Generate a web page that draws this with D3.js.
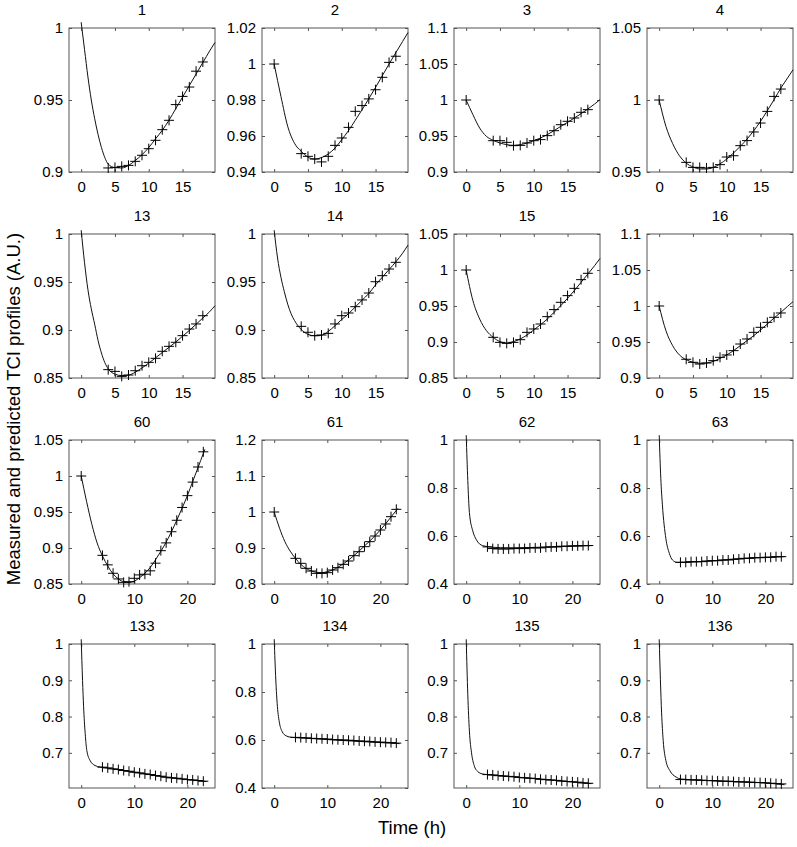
<!DOCTYPE html>
<html>
<head>
<meta charset="utf-8">
<script src="https://cdn.jsdelivr.net/npm/d3@7"></script>
<style>
  body { margin: 0; background: #fff; }
  svg { font-family: "Liberation Sans", Arial, Helvetica, sans-serif; }
  .axis text { font-size: 15px; fill: #000; }
  .axis line { stroke: #555; }
  .axis path { display: none; }
</style>
</head>
<body>
<svg width="797" height="847"></svg>
<script>
// panel titles, row by row
var titles = ["1", "2", "3", "4", "13", "14", "15", "16", "60", "61", "62", "63", "133", "134", "135", "136"];

var yDomains = [
  [0.9, 1], [0.94, 1.02], [0.9, 1.1], [0.95, 1.05],
  [0.85, 1], [0.85, 1], [0.85, 1.05], [0.9, 1.1],
  [0.85, 1.05], [0.8, 1.2], [0.4, 1], [0.4, 1],
  [0.603, 1], [0.4, 1], [0.603, 1], [0.603, 1]
];

var yTicks = [
  [0.9, 0.95, 1], [0.94, 0.96, 0.98, 1, 1.02], [0.9, 0.95, 1, 1.05, 1.1], [0.95, 1, 1.05],
  [0.85, 0.9, 0.95, 1], [0.85, 0.9, 0.95, 1], [0.85, 0.9, 0.95, 1, 1.05], [0.9, 0.95, 1, 1.05, 1.1],
  [0.85, 0.9, 0.95, 1, 1.05], [0.8, 0.9, 1, 1.1, 1.2], [0.4, 0.6, 0.8, 1], [0.4, 0.6, 0.8, 1],
  [0.7, 0.8, 0.9, 1], [0.4, 0.6, 0.8, 1], [0.7, 0.8, 0.9, 1], [0.7, 0.8, 0.9, 1]
];

// time axes: first two rows (18 h), last two rows (23 h)
var xDomainShort = [-1.8, 19.8], xTicksShort = [0, 5, 10, 15];
var xDomainLong = [-2.3, 25.2], xTicksLong = [0, 10, 20];

// measurement times
var timesShort = [0, 4, 5, 6, 7, 8, 9, 10, 11, 12, 13, 14, 15, 16, 17, 18];
var timesLong = [0, 4, 5, 6, 7, 8, 9, 10, 11, 12, 13, 14, 15, 16, 17, 18, 19, 20, 21, 22, 23];

// measured values (null = no marker at t = 0)
var measured = [
  [null, 0.9028, 0.9032, 0.9039, 0.9046, 0.9074, 0.9116, 0.9162, 0.922, 0.9294, 0.9359, 0.9468, 0.9525, 0.959, 0.970, 0.9764],
  [1.0, 0.9502, 0.9487, 0.9472, 0.9456, 0.9487, 0.9548, 0.9589, 0.9648, 0.9737, 0.9769, 0.9806, 0.9857, 0.9926, 1.0009, 1.0043],
  [1.0, 0.9435, 0.9435, 0.9412, 0.9366, 0.937, 0.9403, 0.9435, 0.945, 0.9505, 0.9574, 0.9657, 0.9704, 0.975, 0.9829, 0.9866],
  [1.0, 0.9567, 0.9532, 0.9532, 0.9528, 0.9532, 0.9551, 0.9604, 0.9613, 0.9683, 0.9718, 0.9778, 0.984, 0.9921, 1.0025, 1.0076],
  [null, 0.8587, 0.8569, 0.8517, 0.8531, 0.8576, 0.8628, 0.8663, 0.8705, 0.8778, 0.883, 0.8872, 0.8941, 0.901, 0.9063, 0.9149],
  [null, 0.9038, 0.8976, 0.8941, 0.8948, 0.8965, 0.9063, 0.9149, 0.9177, 0.9243, 0.9313, 0.9385, 0.9503, 0.9566, 0.9635, 0.9705],
  [1.0, 0.9065, 0.8995, 0.8981, 0.8995, 0.9032, 0.9134, 0.9181, 0.925, 0.9352, 0.945, 0.9551, 0.9644, 0.9745, 0.9866, 0.9954],
  [1.0, 0.926, 0.9218, 0.9194, 0.9208, 0.9241, 0.9287, 0.932, 0.938, 0.9472, 0.9542, 0.9634, 0.9704, 0.9773, 0.9843, 0.9903],
  [1.0, 0.8898, 0.8766, 0.8649, 0.857, 0.8523, 0.8532, 0.8579, 0.8626, 0.8636, 0.8683, 0.8789, 0.8963, 0.9071, 0.9226, 0.9385, 0.9563, 0.9727, 0.9915, 1.0125, 1.0336],
  [1.0, 0.8713, 0.8574, 0.8435, 0.8361, 0.8296, 0.8296, 0.8315, 0.8389, 0.8454, 0.8546, 0.8639, 0.8787, 0.8898, 0.9037, 0.9176, 0.9333, 0.95, 0.9667, 0.987, 1.0074],
  [null, 0.5546, 0.5476, 0.5462, 0.5462, 0.5462, 0.5476, 0.5476, 0.5476, 0.5504, 0.5504, 0.5504, 0.5532, 0.5546, 0.5546, 0.5574, 0.5574, 0.5588, 0.5588, 0.5602, 0.5602],
  [null, 0.4903, 0.4903, 0.4931, 0.4931, 0.4931, 0.4958, 0.4972, 0.4972, 0.5, 0.5, 0.5028, 0.5042, 0.5069, 0.5069, 0.5097, 0.5097, 0.5111, 0.5111, 0.5139, 0.5139],
  [null, 0.6604, 0.6585, 0.6558, 0.6539, 0.6512, 0.6493, 0.6465, 0.6447, 0.6419, 0.6401, 0.6373, 0.6355, 0.6327, 0.6309, 0.63, 0.6281, 0.6263, 0.6253, 0.6235, 0.6217],
  [null, 0.611, 0.610, 0.609, 0.607, 0.606, 0.605, 0.604, 0.602, 0.601, 0.600, 0.599, 0.598, 0.596, 0.595, 0.594, 0.592, 0.591, 0.590, 0.589, 0.587],
  [null, 0.640, 0.639, 0.637, 0.636, 0.635, 0.634, 0.632, 0.631, 0.630, 0.629, 0.627, 0.626, 0.625, 0.624, 0.622, 0.621, 0.620, 0.619, 0.617, 0.616],
  [null, 0.6263, 0.6263, 0.6253, 0.6253, 0.6244, 0.6235, 0.6235, 0.6226, 0.6217, 0.6217, 0.6207, 0.6198, 0.6198, 0.6189, 0.618, 0.618, 0.6171, 0.6161, 0.6152, 0.6143]
];

// predicted profiles, [time, value]
var predicted = [
  [[0,1.004],[0.5,0.985],[1,0.966],[1.5,0.95],[2,0.937],[2.5,0.926],[3,0.917],[3.5,0.91],[4,0.9055],[5,0.903],[6,0.9028],[7,0.9045],[8,0.908],[9,0.912],[10,0.917],[11,0.923],[12,0.929],[13,0.936],[14,0.944],[15,0.952],[16,0.960],[17,0.968],[18,0.976],[19,0.984],[19.8,0.990]],
  [[0,1.0],[1,0.982],[2,0.9654],[3,0.956],[4,0.9515],[5,0.9483],[6,0.9472],[7,0.948],[8,0.950],[9,0.9533],[10,0.958],[11,0.963],[12,0.9687],[13,0.9746],[14,0.9807],[15,0.987],[16,0.9935],[17,1.0],[18,1.0063],[19,1.0125],[19.8,1.0175]],
  [[0,1.0],[1,0.9796],[2,0.961],[3,0.9495],[4,0.944],[5,0.9403],[6,0.938],[7,0.937],[8,0.938],[9,0.9403],[10,0.9435],[11,0.9472],[12,0.9519],[13,0.9574],[14,0.9634],[15,0.969],[16,0.975],[17,0.981],[18,0.9875],[19,0.9944],[19.8,1.0005]],
  [[0,1.0],[1,0.9817],[2,0.9697],[3,0.9613],[4,0.9562],[5,0.9535],[6,0.9521],[7,0.9521],[8,0.9532],[9,0.9556],[10,0.959],[11,0.9632],[12,0.9678],[13,0.9729],[14,0.9787],[15,0.9852],[16,0.9926],[17,1.0002],[18,1.0083],[19,1.0153],[19.8,1.021]],
  [[0,1.004],[0.5,0.97],[1,0.942],[1.5,0.922],[2,0.906],[2.5,0.889],[3,0.876],[3.5,0.866],[4,0.8595],[5,0.854],[6,0.8525],[7,0.853],[8,0.856],[9,0.8605],[10,0.8655],[11,0.871],[12,0.8765],[13,0.882],[14,0.8875],[15,0.8935],[16,0.8995],[17,0.906],[18,0.9125],[19,0.919],[19.8,0.9253]],
  [[0,1.004],[0.5,0.975],[1,0.955],[1.5,0.94],[2,0.927],[2.5,0.917],[3,0.910],[4,0.9005],[5,0.8955],[6,0.894],[7,0.8945],[8,0.8985],[9,0.9045],[10,0.911],[11,0.917],[12,0.924],[13,0.931],[14,0.938],[15,0.947],[16,0.955],[17,0.963],[18,0.971],[19,0.980],[19.8,0.9885]],
  [[0,1.0],[1,0.9574],[2,0.9319],[3,0.9157],[4,0.9065],[5,0.9005],[6,0.8986],[7,0.9005],[8,0.9042],[9,0.9097],[10,0.9167],[11,0.9241],[12,0.9319],[13,0.9412],[14,0.9505],[15,0.9607],[16,0.9713],[17,0.9829],[18,0.9944],[19,1.006],[19.8,1.016]],
  [[0,1.0],[1,0.9657],[2,0.9449],[3,0.932],[4,0.9255],[5,0.9218],[6,0.9204],[7,0.9208],[8,0.9231],[9,0.9273],[10,0.932],[11,0.938],[12,0.9449],[13,0.9519],[14,0.9588],[15,0.9667],[16,0.975],[17,0.9833],[18,0.9912],[19,0.9995],[19.8,1.006]],
  [[0,1.0],[1,0.965],[2,0.933],[3,0.907],[4,0.889],[5,0.875],[6,0.864],[7,0.857],[8,0.853],[9,0.852],[10,0.854],[11,0.8588],[12,0.865],[13,0.8729],[14,0.8837],[15,0.8954],[16,0.9081],[17,0.9226],[18,0.9385],[19,0.9553],[20,0.9727],[21,0.9924],[22,1.0116],[23,1.0313],[23.3,1.037]],
  [[0,1.0],[1,0.955],[2,0.918],[3,0.8915],[4,0.8713],[5,0.8546],[6,0.8435],[7,0.8361],[8,0.8324],[9,0.8315],[10,0.8343],[11,0.8389],[12,0.8463],[13,0.8556],[14,0.8667],[15,0.8787],[16,0.8917],[17,0.9056],[18,0.9194],[19,0.9343],[20,0.95],[21,0.9676],[22,0.9861],[23,1.0046],[23.3,1.01]],
  [[0,1.02],[0.3,0.831],[0.6,0.698],[1.25,0.62],[1.9,0.585],[2.5,0.567],[3.1,0.56],[4,0.556],[5,0.553],[8,0.551],[12,0.552],[18,0.556],[23.6,0.56]],
  [[0,1.02],[0.3,0.84],[0.6,0.73],[1.25,0.59],[1.9,0.528],[2.5,0.5],[3.4,0.49],[4,0.4903],[8,0.4931],[12,0.5],[16,0.5069],[20,0.5111],[23.6,0.514]],
  [[0,1.013],[0.25,0.9],[0.45,0.827],[0.75,0.753],[1.06,0.706],[1.7,0.678],[2.6,0.665],[3.5,0.661],[4,0.66],[8,0.651],[12,0.642],[16,0.633],[20,0.626],[23.6,0.621]],
  [[0,1.02],[0.3,0.85],[0.6,0.74],[1.0,0.67],[1.5,0.635],[2.2,0.618],[3,0.612],[4,0.61],[8,0.605],[12,0.599],[16,0.594],[20,0.589],[23.6,0.585]],
  [[0,1.013],[0.3,0.86],[0.6,0.76],[1.0,0.70],[1.5,0.665],[2.2,0.648],[3,0.642],[4,0.64],[8,0.635],[12,0.63],[16,0.625],[20,0.62],[23.6,0.615]],
  [[0,1.013],[0.45,0.81],[0.75,0.734],[1.25,0.679],[2,0.651],[3.2,0.633],[4,0.628],[8,0.6244],[12,0.6217],[16,0.6198],[20,0.617],[23.6,0.612]]
];

var svg = d3.select("svg");

var colLeft = [69, 262, 454, 647],
    rowTop = [28, 234, 440, 644],
    panelW = 146,
    panelH = 144;

var fmt = function(d) { return String(+d.toFixed(2)); };

titles.forEach(function(title, i) {
  var row = Math.floor(i / 4), col = i % 4;
  var longRun = row >= 2;

  var x = d3.scaleLinear()
      .domain(longRun ? xDomainLong : xDomainShort)
      .range([0, panelW]);
  var y = d3.scaleLinear()
      .domain(yDomains[i])
      .range([panelH, 0]);
  var xt = longRun ? xTicksLong : xTicksShort;

  var g = svg.append("g")
      .attr("transform", "translate(" + colLeft[col] + "," + rowTop[row] + ")");

  // ticks on all four sides, pointing inward
  g.append("g")
      .attr("class", "axis")
      .attr("transform", "translate(0," + panelH + ")")
      .call(d3.axisBottom(x).tickValues(xt).tickSizeInner(-3).tickSizeOuter(0).tickPadding(9));
  g.append("g")
      .attr("class", "axis")
      .call(d3.axisTop(x).tickValues(xt).tickSizeInner(-3).tickSizeOuter(0).tickFormat(""));
  g.append("g")
      .attr("class", "axis")
      .call(d3.axisLeft(y).tickValues(yTicks[i]).tickSizeInner(-3).tickSizeOuter(0).tickPadding(6).tickFormat(fmt));
  g.append("g")
      .attr("class", "axis")
      .attr("transform", "translate(" + panelW + ",0)")
      .call(d3.axisRight(y).tickValues(yTicks[i]).tickSizeInner(-3).tickSizeOuter(0).tickFormat(""));

  g.append("rect")
      .attr("width", panelW)
      .attr("height", panelH)
      .attr("fill", "none")
      .attr("stroke", "#555")
      .attr("stroke-width", 1);

  g.append("text")
      .attr("x", panelW / 2)
      .attr("y", -13)
      .attr("text-anchor", "middle")
      .style("font-size", "15px")
      .text(title);

  var line = d3.line()
      .curve(d3.curveMonotoneX)
      .x(function(d) { return x(d[0]); })
      .y(function(d) { return y(d[1]); });

  g.append("path")
      .datum(predicted[i])
      .attr("fill", "none")
      .attr("stroke", "#111")
      .attr("stroke-width", 1)
      .attr("d", line);

  var times = longRun ? timesLong : timesShort;
  var pts = measured[i].map(function(v, k) { return [times[k], v]; })
      .filter(function(d) { return d[1] !== null; });

  g.selectAll(".plus")
      .data(pts)
    .enter().append("path")
      .attr("class", "plus")
      .attr("transform", function(d) { return "translate(" + x(d[0]) + "," + y(d[1]) + ")"; })
      .attr("d", "M-5,0H5M0,-5V5")
      .attr("stroke", "#000")
      .attr("stroke-width", 1)
      .attr("fill", "none");
});

svg.append("text")
    .attr("transform", "translate(20,409) rotate(-90)")
    .attr("text-anchor", "middle")
    .style("font-size", "18.5px")
    .text("Measured and predicted TCI profiles (A.U.)");

svg.append("text")
    .attr("x", 412)
    .attr("y", 834)
    .attr("text-anchor", "middle")
    .style("font-size", "18.5px")
    .text("Time (h)");
</script>
</body>
</html>
